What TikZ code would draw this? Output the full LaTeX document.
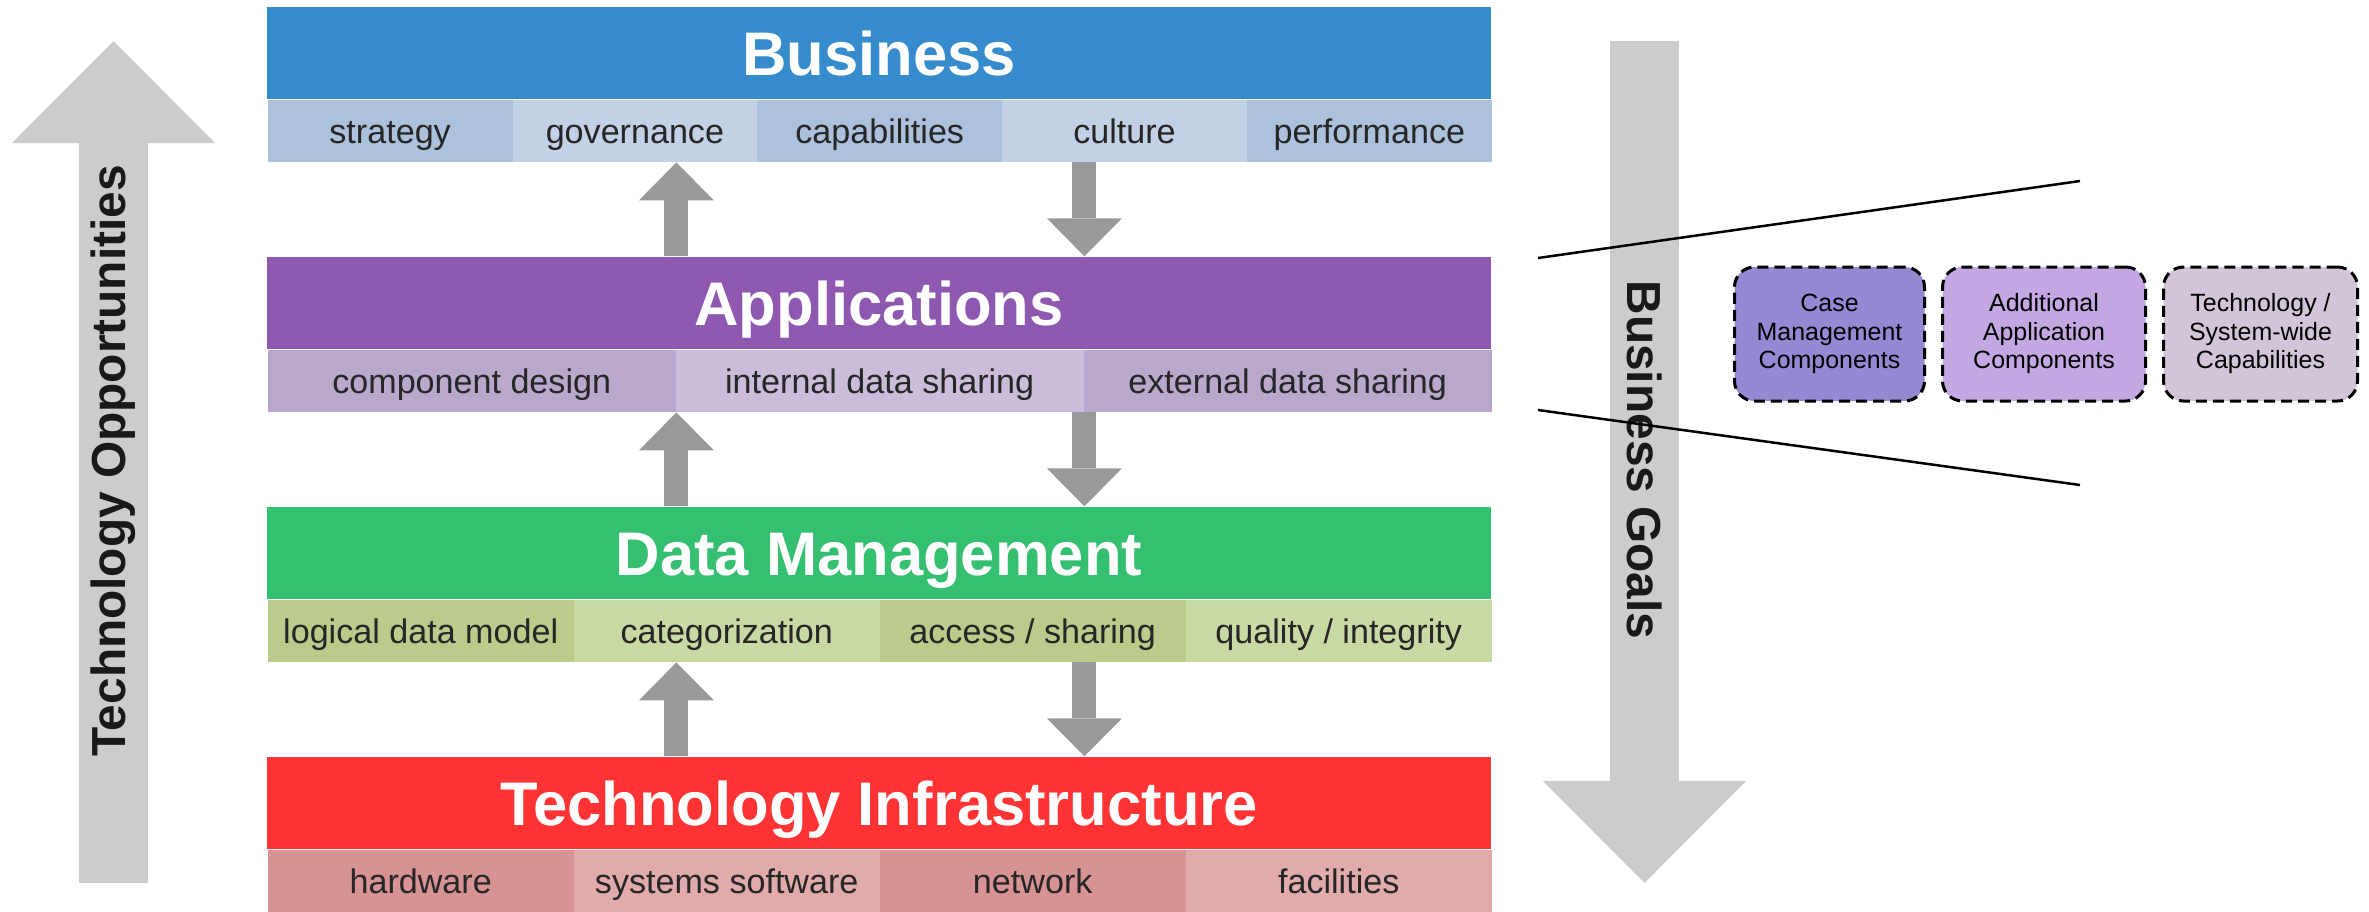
\documentclass[tikz,border=0pt]{standalone}
\usepackage{fontspec}
\setmainfont{Liberation Sans}
\usetikzlibrary{arrows.meta}
\newlength{\du}
\setlength{\du}{0.01cm}
\definecolor{bizblue}{rgb}{0.208, 0.545, 0.796}
\definecolor{bizdark}{rgb}{0.675, 0.757, 0.863}
\definecolor{bizlight}{rgb}{0.761, 0.820, 0.898}
\definecolor{apppurple}{rgb}{0.557, 0.345, 0.690}
\definecolor{appdark}{rgb}{0.729, 0.659, 0.800}
\definecolor{applight}{rgb}{0.796, 0.741, 0.851}
\definecolor{datgreen}{rgb}{0.208, 0.749, 0.443}
\definecolor{datdark}{rgb}{0.733, 0.796, 0.545}
\definecolor{datlight}{rgb}{0.788, 0.851, 0.639}
\definecolor{tecred}{rgb}{1.000, 0.200, 0.200}
\definecolor{tecdark}{rgb}{0.843, 0.576, 0.576}
\definecolor{teclight}{rgb}{0.886, 0.671, 0.671}
\definecolor{biggray}{rgb}{0.800, 0.800, 0.800}
\definecolor{flowgray}{rgb}{0.600, 0.600, 0.600}
\definecolor{casecol}{rgb}{0.592, 0.533, 0.831}
\definecolor{addcol}{rgb}{0.769, 0.659, 0.894}
\definecolor{techcol}{rgb}{0.824, 0.769, 0.851}

\tikzset{
  layerhead/.style={minimum width=1224\du, minimum height=92\du, inner sep=0pt, text height=12.6pt, text depth=0pt, text=white, font=\fontsize{17.5}{21}\selectfont\bfseries},
  layercell/.style={minimum height=62\du, inner sep=0pt, text height=7pt, text depth=0pt, anchor=north west, text=black!85, font=\fontsize{9.7}{11}\selectfont},
  flow/.style={draw=flowgray, line width=24\du, -{Triangle[length=0.38cm, width=0.75cm, line width=0pt]}},
  bigflow/.style={draw=biggray, line width=69\du, -{Triangle[length=1.02cm, width=2.03cm, line width=0pt]}},
  flowlabel/.style={inner sep=0pt, text=black!90, font=\fontsize{13.6}{16}\selectfont\bfseries},
  fanline/.style={draw=black, line width=2.5\du},
  compbox/.style={draw=black, line width=3\du, dash pattern=on 0.11cm off 0.06cm, rounded corners=20\du, minimum height=134\du, inner sep=0pt, align=center, font=\fontsize{7.1}{8.1}\selectfont}
}

\begin{document}
\begin{tikzpicture}
\pgftransformxscale{1.000000}
\pgftransformyscale{-1.000000}
\useasboundingbox (0\du,0\du) rectangle (2369\du,911\du);
\coordinate (oppFoot) at (113.5\du,883\du);
\coordinate (oppTip) at (113.5\du,41\du);
\coordinate (goalTop) at (1644.5\du,41\du);
\coordinate (goalTip) at (1644.5\du,883\du);
\draw[bigflow] (oppFoot) -- (oppTip);
\draw[bigflow] (goalTop) -- (goalTip);
\node[flowlabel, rotate=90] (opp) at (113.5\du,461\du) {Technology Opportunities};
\node[flowlabel, rotate=-90] (goals) at (1644.5\du,460\du) {Business Goals};
\node[layerhead, fill=bizblue] (biz) at (879\du,53\du) {Business};
\node[layercell, fill=bizdark, minimum width=244.8\du] (b1) at (267\du,99\du) {strategy};
\node[layercell, fill=bizlight, minimum width=244.8\du] (b2) at (511.8\du,99\du) {governance};
\node[layercell, fill=bizdark, minimum width=244.8\du] (b3) at (756.6\du,99\du) {capabilities};
\node[layercell, fill=bizlight, minimum width=244.8\du] (b4) at (1001.4\du,99\du) {culture};
\node[layercell, fill=bizdark, minimum width=244.8\du] (b5) at (1246.2\du,99\du) {performance};
\node[layerhead, fill=apppurple] (app) at (879\du,303\du) {Applications};
\node[layercell, fill=appdark, minimum width=408\du] (a1) at (267\du,349\du) {component design};
\node[layercell, fill=applight, minimum width=408\du] (a2) at (675\du,349\du) {internal data sharing};
\node[layercell, fill=appdark, minimum width=408\du] (a3) at (1083\du,349\du) {external data sharing};
\node[layerhead, fill=datgreen] (dat) at (879\du,553\du) {Data Management};
\node[layercell, fill=datdark, minimum width=306\du] (d1) at (267\du,599\du) {logical data model};
\node[layercell, fill=datlight, minimum width=306\du] (d2) at (573\du,599\du) {categorization};
\node[layercell, fill=datdark, minimum width=306\du] (d3) at (879\du,599\du) {access / sharing};
\node[layercell, fill=datlight, minimum width=306\du] (d4) at (1185\du,599\du) {quality / integrity};
\node[layerhead, fill=tecred] (tec) at (879\du,803\du) {Technology Infrastructure};
\node[layercell, fill=tecdark, minimum width=306\du] (t1) at (267\du,849\du) {hardware};
\node[layercell, fill=teclight, minimum width=306\du] (t2) at (573\du,849\du) {systems software};
\node[layercell, fill=tecdark, minimum width=306\du] (t3) at (879\du,849\du) {network};
\node[layercell, fill=teclight, minimum width=306\du] (t4) at (1185\du,849\du) {facilities};
\draw[flow] (app.north -| a1.north east) -- (b1.south -| a1.north east);
\draw[flow] (b1.south -| a2.north east) -- (app.north -| a2.north east);
\draw[flow] (dat.north -| a1.south east) -- (a1.south east);
\draw[flow] (a2.south east) -- (dat.north -| a2.south east);
\draw[flow] (tec.north -| a1.south east) -- (d1.south -| a1.south east);
\draw[flow] (d1.south -| a2.south east) -- (tec.north -| a2.south east);
\coordinate (fanA) at (1538\du,258\du);
\coordinate (fanB) at (2080\du,181\du);
\coordinate (fanC) at (1538\du,410\du);
\coordinate (fanD) at (2080\du,485\du);
\draw[fanline] (fanA) -- (fanB);
\draw[fanline] (fanC) -- (fanD);
\node[compbox, fill=casecol, minimum width=190\du] (cmc) at (1829.5\du,334\du) {Case\\Management\\Components};
\node[compbox, fill=addcol, minimum width=203\du] (aac) at (2044\du,334\du) {Additional\\Application\\Components};
\node[compbox, fill=techcol, minimum width=194\du] (tsc) at (2260.5\du,334\du) {Technology /\\System-wide\\Capabilities};
\end{tikzpicture}
\end{document}
